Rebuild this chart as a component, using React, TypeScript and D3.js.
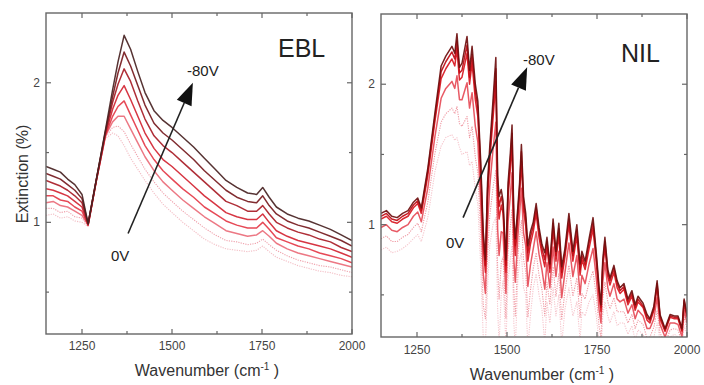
import React from 'react';
import * as d3 from 'd3';

// EBL spectra, 0V (lightest) -> -80V (darkest)
const eblWavenumber = [1150, 1170, 1190, 1210, 1230, 1250, 1267, 1290, 1315, 1335, 1350, 1367, 1385, 1405, 1425, 1450, 1475, 1500, 1530, 1560, 1590, 1620, 1650, 1680, 1710, 1735, 1752, 1770, 1790, 1820, 1850, 1880, 1910, 1940, 1970, 2000];
const ebl0 = [1.05, 1.06, 1.03, 1.04, 1.01, 1.0, 0.97, 1.29, 1.6, 1.64, 1.62, 1.55, 1.46, 1.38, 1.3, 1.21, 1.13, 1.07, 1.0, 0.94, 0.88, 0.84, 0.81, 0.8, 0.79, 0.8, 0.83, 0.79, 0.75, 0.72, 0.69, 0.67, 0.65, 0.64, 0.62, 0.61];
const ebl1 = [1.1, 1.1, 1.07, 1.08, 1.04, 1.03, 0.97, 1.29, 1.61, 1.68, 1.69, 1.65, 1.56, 1.47, 1.38, 1.29, 1.21, 1.15, 1.08, 1.02, 0.96, 0.91, 0.87, 0.86, 0.84, 0.85, 0.88, 0.84, 0.8, 0.76, 0.73, 0.71, 0.69, 0.68, 0.66, 0.64];
const ebl2 = [1.14, 1.15, 1.12, 1.11, 1.08, 1.05, 0.98, 1.3, 1.62, 1.72, 1.76, 1.76, 1.67, 1.57, 1.47, 1.37, 1.29, 1.23, 1.16, 1.1, 1.04, 0.99, 0.94, 0.92, 0.9, 0.91, 0.94, 0.9, 0.85, 0.81, 0.78, 0.76, 0.74, 0.72, 0.7, 0.68];
const ebl3 = [1.19, 1.19, 1.16, 1.15, 1.11, 1.08, 0.98, 1.3, 1.62, 1.76, 1.83, 1.87, 1.77, 1.66, 1.55, 1.45, 1.37, 1.31, 1.24, 1.18, 1.11, 1.06, 1.01, 0.98, 0.96, 0.96, 1.0, 0.95, 0.89, 0.86, 0.83, 0.81, 0.78, 0.76, 0.74, 0.71];
const ebl4 = [1.24, 1.23, 1.21, 1.19, 1.15, 1.11, 0.98, 1.3, 1.63, 1.81, 1.91, 1.98, 1.88, 1.76, 1.64, 1.53, 1.45, 1.4, 1.33, 1.26, 1.19, 1.13, 1.07, 1.04, 1.02, 1.02, 1.06, 1.0, 0.94, 0.9, 0.87, 0.85, 0.83, 0.81, 0.78, 0.75];
const ebl5 = [1.3, 1.28, 1.26, 1.23, 1.19, 1.14, 0.99, 1.31, 1.64, 1.86, 1.99, 2.1, 2.01, 1.87, 1.74, 1.62, 1.55, 1.5, 1.43, 1.36, 1.29, 1.22, 1.15, 1.12, 1.08, 1.08, 1.12, 1.06, 1.0, 0.96, 0.93, 0.91, 0.88, 0.86, 0.82, 0.79];
const ebl6 = [1.35, 1.33, 1.31, 1.27, 1.23, 1.17, 0.99, 1.31, 1.65, 1.9, 2.07, 2.22, 2.12, 1.98, 1.84, 1.71, 1.64, 1.59, 1.52, 1.45, 1.37, 1.3, 1.23, 1.18, 1.15, 1.14, 1.19, 1.12, 1.06, 1.01, 0.98, 0.96, 0.93, 0.9, 0.87, 0.83];
const ebl7 = [1.4, 1.38, 1.36, 1.31, 1.27, 1.2, 0.99, 1.31, 1.66, 1.95, 2.15, 2.34, 2.24, 2.08, 1.93, 1.8, 1.73, 1.68, 1.61, 1.54, 1.46, 1.38, 1.3, 1.25, 1.21, 1.2, 1.25, 1.18, 1.11, 1.06, 1.03, 1.01, 0.98, 0.95, 0.91, 0.87];
const eblColors = ['#f2b8c0', '#ee98a4', '#ea6c7a', '#e43a48', '#d22432', '#a81c26', '#761a1e', '#482222'];

// NIL spectra, 0V (lightest) -> -80V (darkest)
const nilWavenumber = [1150, 1165, 1180, 1195, 1210, 1225, 1240, 1252, 1262, 1280, 1300, 1317, 1330, 1347, 1355, 1361, 1368, 1375, 1389, 1396, 1403, 1412, 1419, 1427, 1434, 1440, 1446, 1452, 1461, 1469, 1474, 1478, 1484, 1489, 1497, 1503, 1509, 1514, 1519, 1523, 1530, 1535, 1540, 1546, 1552, 1558, 1565, 1573, 1581, 1589, 1597, 1605, 1611, 1619, 1628, 1636, 1644, 1652, 1661, 1672, 1683, 1694, 1703, 1708, 1717, 1728, 1739, 1748, 1756, 1761, 1766, 1772, 1780, 1786, 1797, 1806, 1814, 1825, 1836, 1847, 1856, 1864, 1878, 1889, 1897, 1908, 1917, 1925, 1939, 1953, 1965, 1975, 1986, 1992, 2000];
const nil0 = [0.82, 0.84, 0.8, 0.81, 0.83, 0.86, 0.9, 0.93, 0.88, 1.05, 1.38, 1.56, 1.62, 1.64, 1.6, 1.62, 1.55, 1.5, 1.52, 1.42, 1.45, 1.25, 1.15, 0.7, 0.2, 0.15, 0.55, 0.85, 1.0, 1.05, 0.4, 0.15, 0.5, 0.6, 0.15, 0.6, 0.75, 0.85, 0.3, 0.12, 0.6, 0.75, 0.8, 0.55, 0.5, 0.12, 0.35, 0.55, 0.65, 0.5, 0.4, 0.15, 0.45, 0.3, 0.55, 0.35, 0.5, 0.15, 0.4, 0.55, 0.35, 0.45, 0.18, 0.38, 0.35, 0.45, 0.5, 0.35, 0.15, 0.1, 0.35, 0.45, 0.35, 0.3, 0.38, 0.28, 0.3, 0.3, 0.22, 0.28, 0.18, 0.25, 0.22, 0.12, 0.15, 0.2, 0.3, 0.18, 0.1, 0.2, 0.22, 0.2, 0.12, 0.28, 0.22];
const nil1 = [0.9, 0.92, 0.88, 0.88, 0.91, 0.93, 0.98, 1.01, 0.95, 1.16, 1.51, 1.73, 1.79, 1.83, 1.79, 1.84, 1.72, 1.7, 1.77, 1.62, 1.7, 1.48, 1.37, 0.93, 0.43, 0.33, 0.78, 1.06, 1.26, 1.39, 0.69, 0.47, 0.73, 0.77, 0.33, 0.81, 0.98, 1.11, 0.53, 0.35, 0.76, 0.92, 1.03, 0.75, 0.67, 0.34, 0.53, 0.69, 0.8, 0.64, 0.54, 0.35, 0.59, 0.43, 0.7, 0.49, 0.65, 0.32, 0.53, 0.71, 0.49, 0.62, 0.34, 0.51, 0.47, 0.59, 0.67, 0.49, 0.27, 0.2, 0.47, 0.59, 0.45, 0.4, 0.48, 0.38, 0.38, 0.38, 0.3, 0.36, 0.26, 0.32, 0.29, 0.19, 0.2, 0.27, 0.39, 0.23, 0.15, 0.25, 0.26, 0.25, 0.16, 0.34, 0.26];
const nil2 = [0.98, 1.0, 0.96, 0.95, 0.98, 1.0, 1.06, 1.09, 1.02, 1.26, 1.63, 1.9, 1.97, 2.02, 1.97, 2.06, 1.89, 1.89, 2.01, 1.83, 1.94, 1.7, 1.59, 1.15, 0.65, 0.51, 1.0, 1.27, 1.53, 1.73, 0.97, 0.78, 0.95, 0.94, 0.51, 1.02, 1.2, 1.37, 0.75, 0.59, 0.91, 1.08, 1.26, 0.94, 0.85, 0.56, 0.71, 0.83, 0.95, 0.79, 0.68, 0.54, 0.73, 0.55, 0.84, 0.63, 0.81, 0.48, 0.66, 0.87, 0.63, 0.78, 0.5, 0.64, 0.58, 0.72, 0.83, 0.62, 0.39, 0.3, 0.59, 0.73, 0.55, 0.49, 0.58, 0.47, 0.45, 0.47, 0.37, 0.43, 0.33, 0.39, 0.35, 0.26, 0.26, 0.33, 0.48, 0.29, 0.2, 0.3, 0.3, 0.29, 0.2, 0.39, 0.3];
const nil3 = [1.04, 1.06, 1.02, 1.01, 1.04, 1.06, 1.12, 1.15, 1.08, 1.35, 1.74, 2.04, 2.11, 2.18, 2.13, 2.25, 2.03, 2.05, 2.22, 2.0, 2.15, 1.89, 1.77, 1.34, 0.84, 0.66, 1.19, 1.45, 1.75, 2.02, 1.21, 1.04, 1.14, 1.08, 0.66, 1.2, 1.39, 1.58, 0.94, 0.78, 1.04, 1.22, 1.45, 1.1, 0.99, 0.74, 0.86, 0.95, 1.08, 0.91, 0.79, 0.7, 0.84, 0.66, 0.97, 0.74, 0.93, 0.62, 0.77, 1.0, 0.74, 0.92, 0.64, 0.75, 0.68, 0.83, 0.97, 0.73, 0.49, 0.38, 0.69, 0.84, 0.63, 0.57, 0.66, 0.55, 0.51, 0.54, 0.43, 0.49, 0.39, 0.45, 0.41, 0.32, 0.3, 0.39, 0.56, 0.33, 0.24, 0.34, 0.33, 0.33, 0.24, 0.44, 0.34];
const nil4 = [1.06, 1.08, 1.04, 1.03, 1.06, 1.08, 1.14, 1.17, 1.1, 1.38, 1.77, 2.09, 2.16, 2.23, 2.18, 2.31, 2.08, 2.1, 2.28, 2.05, 2.21, 1.95, 1.83, 1.4, 0.9, 0.71, 1.25, 1.5, 1.82, 2.11, 1.28, 1.13, 1.2, 1.13, 0.71, 1.25, 1.45, 1.65, 1.0, 0.85, 1.08, 1.26, 1.52, 1.15, 1.04, 0.8, 0.91, 0.99, 1.12, 0.95, 0.83, 0.75, 0.88, 0.69, 1.01, 0.78, 0.97, 0.66, 0.8, 1.04, 0.78, 0.96, 0.68, 0.78, 0.71, 0.87, 1.01, 0.77, 0.52, 0.41, 0.72, 0.88, 0.66, 0.6, 0.69, 0.58, 0.53, 0.56, 0.45, 0.51, 0.41, 0.47, 0.42, 0.34, 0.32, 0.4, 0.58, 0.35, 0.25, 0.35, 0.34, 0.34, 0.25, 0.46, 0.35];
const nil5 = [1.08, 1.1, 1.06, 1.05, 1.08, 1.1, 1.16, 1.19, 1.12, 1.4, 1.8, 2.13, 2.2, 2.27, 2.22, 2.36, 2.12, 2.15, 2.34, 2.1, 2.27, 2.0, 1.88, 1.45, 0.95, 0.75, 1.3, 1.55, 1.88, 2.19, 1.35, 1.2, 1.25, 1.17, 0.75, 1.3, 1.5, 1.71, 1.05, 0.9, 1.12, 1.3, 1.57, 1.2, 1.08, 0.85, 0.95, 1.02, 1.15, 0.98, 0.86, 0.8, 0.91, 0.72, 1.04, 0.81, 1.01, 0.7, 0.83, 1.08, 0.81, 1.0, 0.72, 0.81, 0.74, 0.9, 1.05, 0.8, 0.55, 0.43, 0.75, 0.91, 0.68, 0.62, 0.71, 0.6, 0.55, 0.58, 0.47, 0.53, 0.43, 0.49, 0.44, 0.36, 0.33, 0.42, 0.6, 0.36, 0.26, 0.36, 0.35, 0.35, 0.26, 0.47, 0.36];
const nilColors = ['#f5c0c8', '#ee8f9a', '#e64c58', '#d8161f', '#c00a12', '#6e0e0e'];

const xTicks = [1250, 1500, 1750, 2000];
const xMinorTicks = [1375, 1625, 1875];
const yTicks = [1, 2];
const yMinorTicks = [0.5, 1.5];

const FONT = '"Liberation Sans", Arial, sans-serif';

type PanelProps = {
  id: string;
  wavenumber: number[];
  series: number[][];
  colors: string[];
  left: number;
  right: number;
  top: number;
  bottom: number;
  title: string;
  titleX: number;
  titleY: number;
  arrowFrom: [number, number];
  arrowTo: [number, number];
  highLabel: [number, number];
  lowLabel: [number, number];
  tickLabelY: number;
  xTitleY: number;
};

function Panel(p: PanelProps) {
  const x = d3.scaleLinear().domain([1150, 2000]).range([p.left, p.right]);
  const y = d3.scaleLinear().domain([0.2, 2.5]).range([p.bottom, p.top]);
  const line = d3
    .line<number>()
    .x((_, i) => x(p.wavenumber[i]))
    .y((d) => y(d));

  // arrow annotation, given in data units
  const [x1, y1] = [x(p.arrowFrom[0]), y(p.arrowFrom[1])];
  const [x2, y2] = [x(p.arrowTo[0]), y(p.arrowTo[1])];
  const len = Math.hypot(x2 - x1, y2 - y1);
  const ux = (x2 - x1) / len;
  const uy = (y2 - y1) / len;
  const headLen = 22;
  const headW = 8;
  const bx = x2 - ux * headLen;
  const by = y2 - uy * headLen;
  const head = `${x2},${y2} ${bx - uy * headW},${by + ux * headW} ${bx + uy * headW},${by - ux * headW}`;

  return (
    <g>
      <defs>
        <clipPath id={`clip-${p.id}`}>
          <rect x={p.left} y={p.top} width={p.right - p.left} height={p.bottom - p.top} />
        </clipPath>
      </defs>
      <g clipPath={`url(#clip-${p.id})`}>
        {p.series.map((s, i) => (
          <path
            key={i}
            d={line(s) || ''}
            fill="none"
            stroke={p.colors[i]}
            strokeWidth={i < 2 ? 1.1 : 1.5}
            strokeDasharray={i < 2 ? '1.2 1.2' : undefined}
            strokeLinejoin="round"
            opacity={0.92}
          />
        ))}
      </g>
      <rect
        x={p.left}
        y={p.top}
        width={p.right - p.left}
        height={p.bottom - p.top}
        fill="none"
        stroke="#666"
        strokeWidth={1.4}
      />
      {[...xTicks, ...xMinorTicks].map((t) => {
        const l = xTicks.includes(t) ? 5 : 3;
        return (
          <g key={`x${t}`} stroke="#666" strokeWidth={1.2}>
            <line x1={x(t)} x2={x(t)} y1={p.bottom} y2={p.bottom - l} />
            <line x1={x(t)} x2={x(t)} y1={p.top} y2={p.top + l} />
          </g>
        );
      })}
      {[...yTicks, ...yMinorTicks].map((t) => {
        const l = yTicks.includes(t) ? 5 : 3;
        return (
          <g key={`y${t}`} stroke="#666" strokeWidth={1.2}>
            <line x1={p.left} x2={p.left + l} y1={y(t)} y2={y(t)} />
            <line x1={p.right} x2={p.right - l} y1={y(t)} y2={y(t)} />
          </g>
        );
      })}
      <g fontFamily={FONT} fontSize={12} fill="#444">
        {xTicks.map((t) => (
          <text key={t} x={x(t)} y={p.tickLabelY} textAnchor="middle">
            {t}
          </text>
        ))}
        {yTicks.map((t) => (
          <text key={t} x={p.left - 6} y={y(t) + 4} textAnchor="end">
            {t}
          </text>
        ))}
      </g>
      <text
        x={(p.left + p.right) / 2 + 8}
        y={p.xTitleY}
        textAnchor="middle"
        fontFamily={FONT}
        fontSize={16}
        fill="#333"
      >
        Wavenumber (cm
        <tspan fontSize={10} dy={-6}>-1</tspan>
        <tspan dy={6}> )</tspan>
      </text>
      <text x={p.titleX} y={p.titleY} fontFamily={FONT} fontSize={25} fill="#222">
        {p.title}
      </text>
      <line x1={x1} y1={y1} x2={bx} y2={by} stroke="#222" strokeWidth={1.6} />
      <polygon points={head} fill="#111" />
      <text x={p.highLabel[0]} y={p.highLabel[1]} fontFamily={FONT} fontSize={15} fill="#222">
        -80V
      </text>
      <text x={p.lowLabel[0]} y={p.lowLabel[1]} fontFamily={FONT} fontSize={15} fill="#222">
        0V
      </text>
    </g>
  );
}

export default function App() {
  return (
    <svg
      width={704}
      height={385}
      style={{ position: 'absolute', left: 0, top: 0, background: '#fff' }}
    >
      <Panel
        id="ebl"
        wavenumber={eblWavenumber}
        series={[ebl0, ebl1, ebl2, ebl3, ebl4, ebl5, ebl6, ebl7]}
        colors={eblColors}
        left={46}
        right={352}
        top={13}
        bottom={334}
        title="EBL"
        titleX={278}
        titleY={57}
        arrowFrom={[1378, 0.92]}
        arrowTo={[1558, 2.0]}
        highLabel={[187, 76]}
        lowLabel={[111, 261]}
        tickLabelY={350}
        xTitleY={376}
      />
      <Panel
        id="nil"
        wavenumber={nilWavenumber}
        series={[nil0, nil1, nil2, nil3, nil4, nil5]}
        colors={nilColors}
        left={381}
        right={687}
        top={14}
        bottom={337}
        title="NIL"
        titleX={621}
        titleY={62}
        arrowFrom={[1378, 1.05]}
        arrowTo={[1556, 2.12]}
        highLabel={[523, 65]}
        lowLabel={[446, 248]}
        tickLabelY={354}
        xTitleY={380}
      />
      <text
        transform="translate(28,174) rotate(-90)"
        textAnchor="middle"
        fontFamily={FONT}
        fontSize={16}
        fill="#333"
      >
        Extinction (%)
      </text>
    </svg>
  );
}
